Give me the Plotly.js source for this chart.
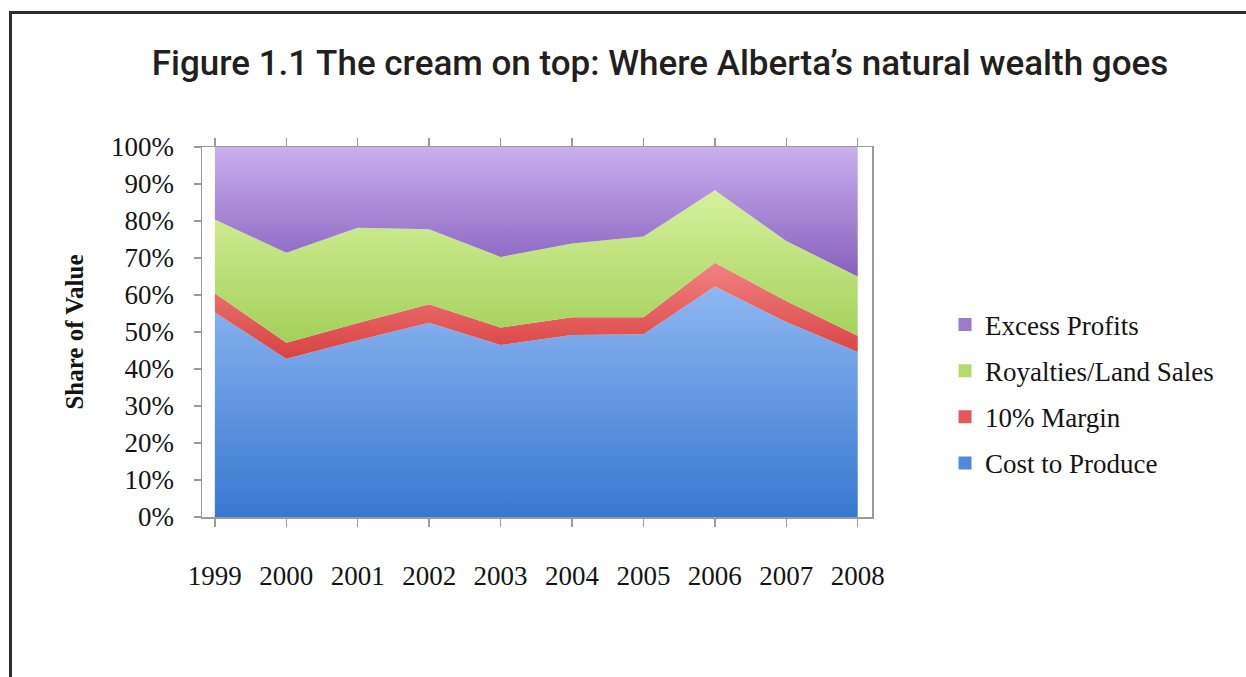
<!DOCTYPE html>
<html>
<head>
<meta charset="utf-8">
<script src="https://cdn.plot.ly/plotly-3.0.1.min.js"></script>
<style>
  html, body { margin: 0; padding: 0; background: #ffffff; }
  #chart { position: absolute; left: 0; top: 0; width: 1246px; height: 677px; }
  #frame {
    position: absolute; left: 9px; top: 11px; width: 1237px; height: 666px;
    border-top: 3px solid #2e2e2e; border-left: 3px solid #2e2e2e;
    pointer-events: none;
  }
</style>
</head>
<body>
<div id="chart"></div>
<div id="frame"></div>
<script>
// Share of the value of Alberta's natural resource output, 1999-2008
const years = [1999, 2000, 2001, 2002, 2003, 2004, 2005, 2006, 2007, 2008];
const costToProduce = [0.553, 0.428, 0.478, 0.525, 0.465, 0.492, 0.494, 0.623, 0.527, 0.446];
const margin10      = [0.052, 0.043, 0.046, 0.050, 0.047, 0.048, 0.046, 0.064, 0.057, 0.044];
const royalties     = [0.199, 0.243, 0.258, 0.203, 0.191, 0.199, 0.218, 0.196, 0.162, 0.160];
const excessProfits = [0.196, 0.286, 0.218, 0.222, 0.297, 0.261, 0.242, 0.117, 0.254, 0.350];

const seriesNames = ['Cost to Produce', '10% Margin', 'Royalties/Land Sales', 'Excess Profits'];
const yTickVals = [0, 0.1, 0.2, 0.3, 0.4, 0.5, 0.6, 0.7, 0.8, 0.9, 1.0];

const serif = 'Liberation Serif, Times New Roman, serif';

// band styling: vertical gradient from the darker lower edge to the lighter upper edge
const bands = [
  { name: seriesNames[0], values: costToProduce, dark: '#3877d0', light: '#8db7f2', legend: '#4f8ade', start: 0.0, stop: 0.62 },
  { name: seriesNames[1], values: margin10,      dark: '#d94242', light: '#f28383', legend: '#e25a5a', start: 0.43, stop: 0.69 },
  { name: seriesNames[2], values: royalties,     dark: '#a2d15a', light: '#d6f09b', legend: '#b2dc72', start: 0.47, stop: 0.88 },
  { name: seriesNames[3], values: excessProfits, dark: '#8660bd', light: '#c9b0ef', legend: '#9b79cc', start: 0.65, stop: 1.0 }
];

const traces = bands.map(b => ({
  type: 'scatter',
  mode: 'lines',
  x: years,
  y: b.values,
  name: b.name,
  stackgroup: 'share',
  line: { width: 0, color: b.dark },
  fillcolor: b.legend,
  fillgradient: {
    type: 'vertical',
    start: b.start,
    stop: b.stop,
    colorscale: [[0, b.dark], [1, b.light]]
  },
  showlegend: false,
  hoverinfo: 'skip'
}));

// legend entries drawn as small squares, listed top band first
bands.slice().reverse().forEach((b, i) => {
  traces.push({
    type: 'scatter',
    mode: 'markers',
    x: [null],
    y: [null],
    name: b.name,
    legendgroup: 'g' + i,
    marker: { symbol: 'square', size: 13, color: b.legend },
    showlegend: true,
    hoverinfo: 'skip'
  });
});

const layout = {
  width: 1246,
  height: 677,
  paper_bgcolor: '#ffffff',
  plot_bgcolor: '#ffffff',
  margin: { l: 202, r: 374, t: 147, b: 160, pad: 0 },
  showlegend: true,
  title: {
    text: 'Figure 1.1 The cream on top: Where Alberta\u2019s natural wealth goes',
    font: { family: 'Roboto, Open Sans, sans-serif', size: 35, color: '#231f20', weight: 500 },
    xref: 'container', x: 0.5297, xanchor: 'center',
    yref: 'container', y: 0.908, yanchor: 'middle'
  },
  xaxis: {
    range: [1998.82, 2008.2],
    tickvals: years,
    ticktext: years.map(String),
    ticks: 'outside',
    ticklen: 8,
    tickcolor: '#9a9a9a',
    tickwidth: 1.5,
    showline: true,
    linecolor: '#9a9a9a',
    linewidth: 1.5,
    mirror: 'ticks',
    showgrid: false,
    zeroline: false,
    ticklabelstandoff: 26,
    tickfont: { family: serif, size: 27, color: '#141414' },
    fixedrange: true
  },
  yaxis: {
    range: [0, 1],
    tickvals: yTickVals,
    tickformat: '.0%',
    ticks: 'outside',
    ticklen: 7,
    tickcolor: '#9a9a9a',
    tickwidth: 1.5,
    showline: true,
    linecolor: '#9a9a9a',
    linewidth: 1.5,
    mirror: true,
    showgrid: false,
    zeroline: false,
    ticklabelstandoff: 14,
    tickfont: { family: serif, size: 27, color: '#141414' },
    title: {
      text: '<b>Share of Value</b>',
      font: { family: serif, size: 25, color: '#141414' },
      standoff: 20
    },
    fixedrange: true
  },
  legend: {
    x: 1.109, xanchor: 'left',
    y: 0.585, yanchor: 'top',
    traceorder: 'grouped',
    tracegroupgap: 8,
    font: { family: serif, size: 27, color: '#141414' },
    bgcolor: 'rgba(0,0,0,0)',
    itemclick: false,
    itemdoubleclick: false
  },
  hovermode: false
};

Plotly.newPlot('chart', traces, layout, { staticPlot: true, displayModeBar: false });
</script>
</body>
</html>
